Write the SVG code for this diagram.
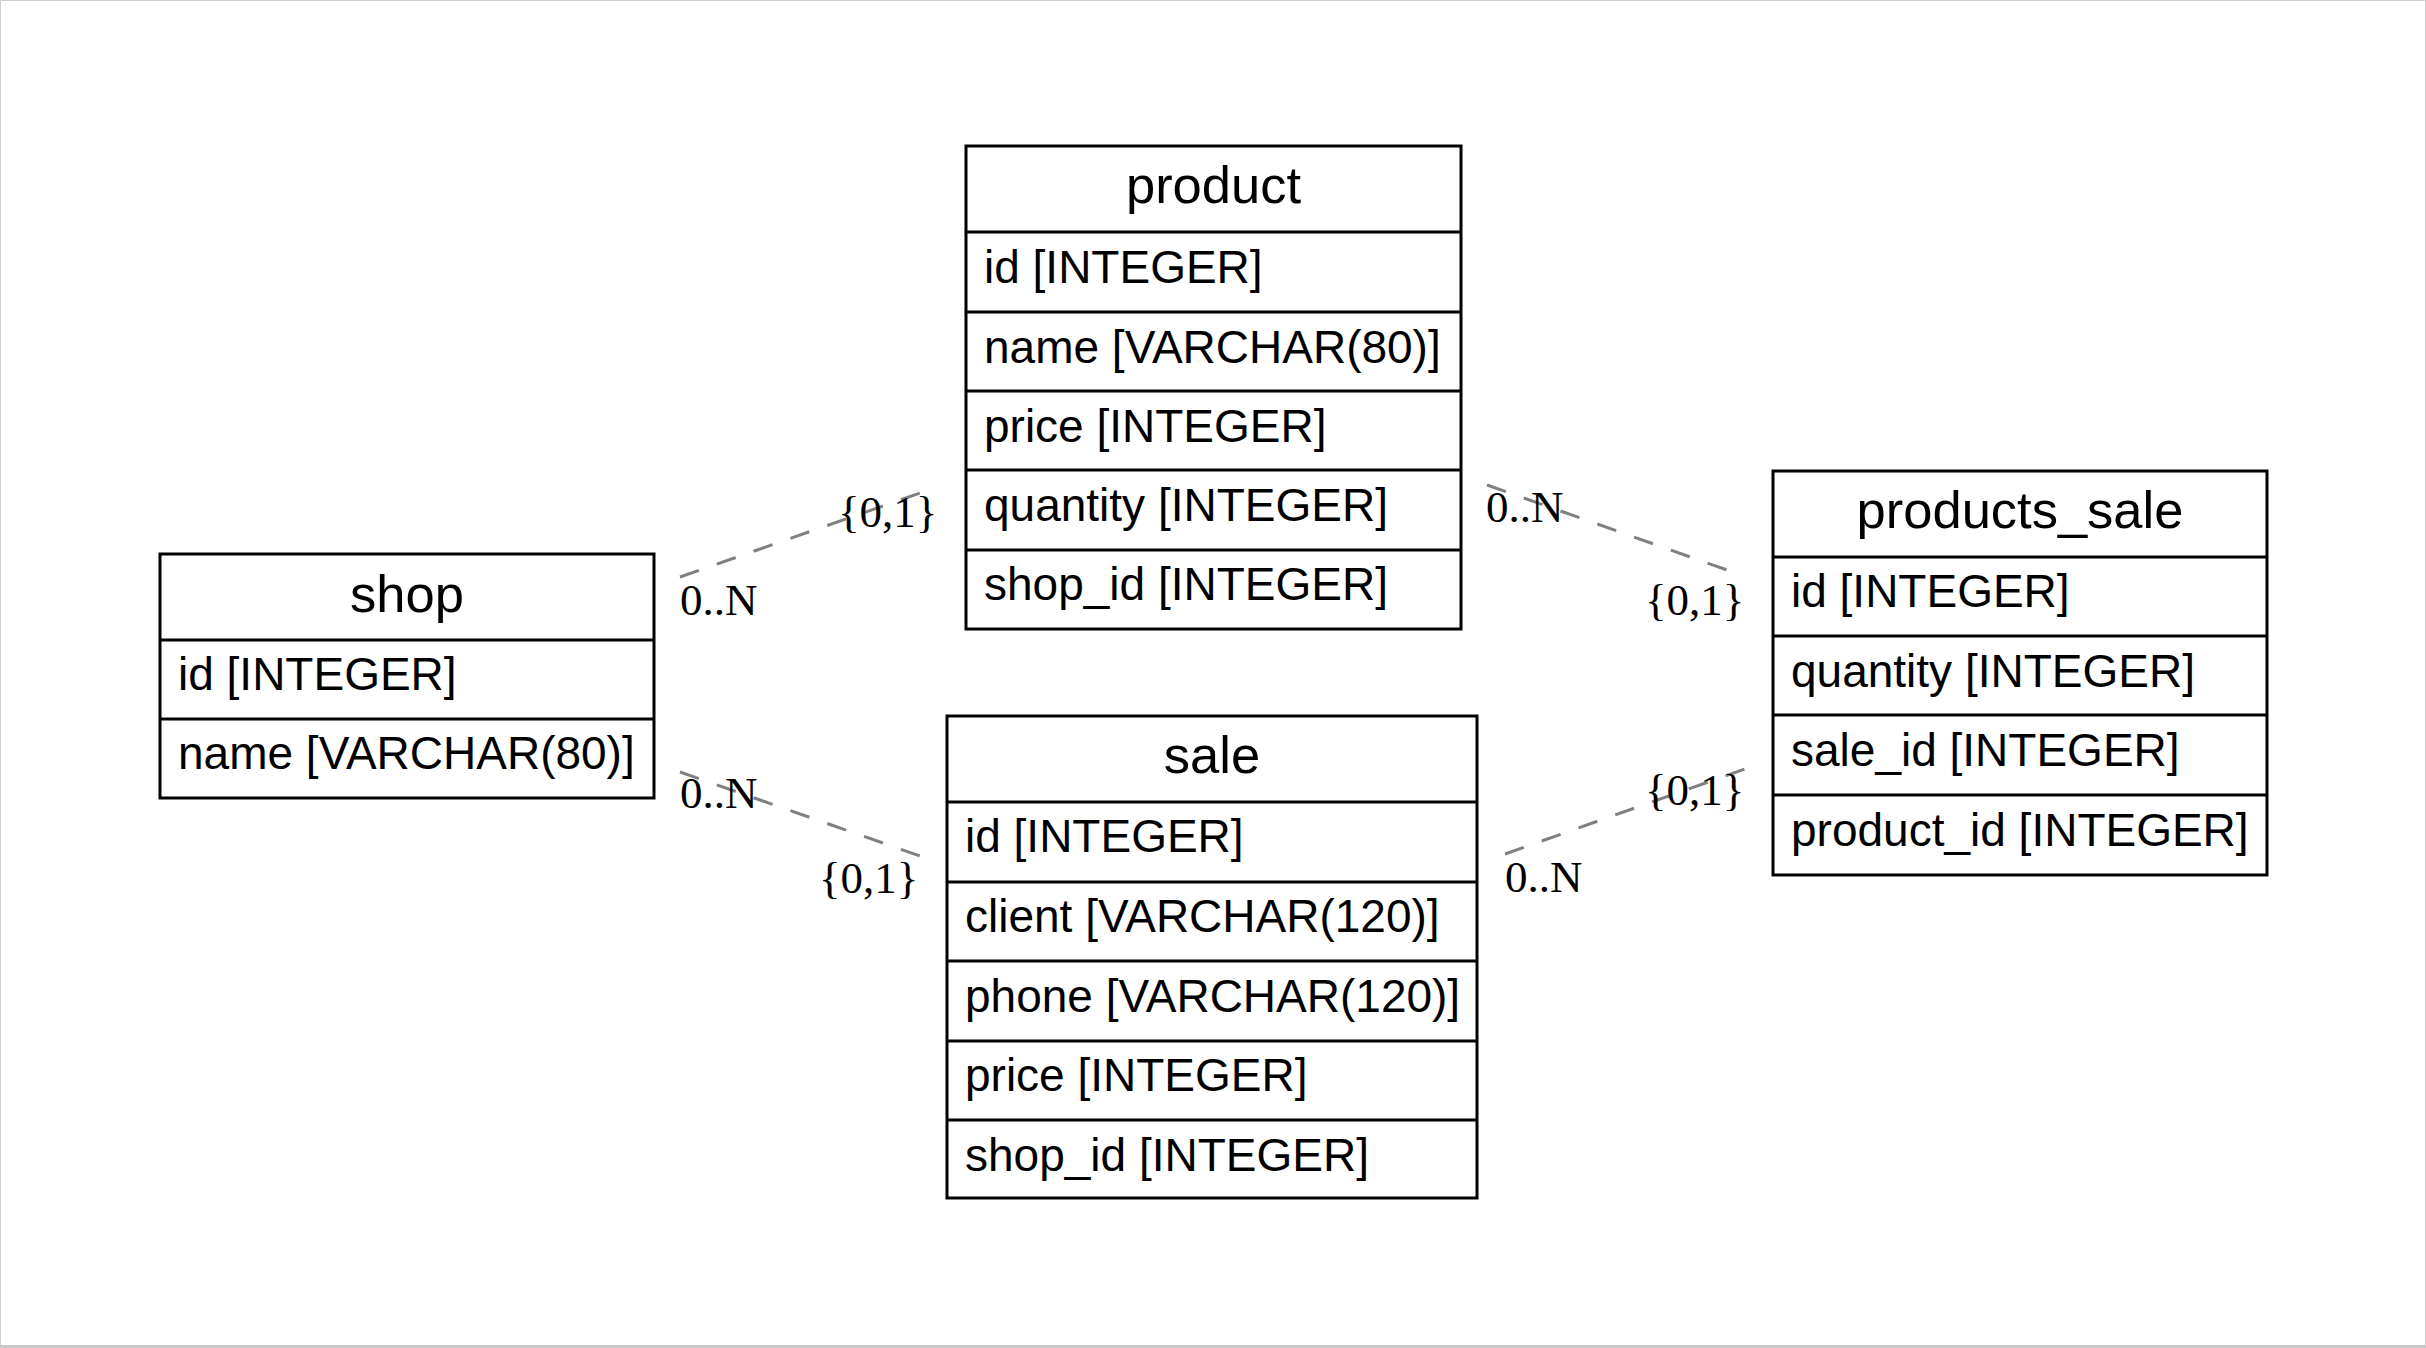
<svg xmlns="http://www.w3.org/2000/svg" width="2426" height="1348" viewBox="0 0 2426 1348">
<style>
.box{fill:#fff;stroke:#000;stroke-width:3}
.div{stroke:#000;stroke-width:3}
.hd{font-family:"Liberation Sans",Arial,sans-serif;font-size:52.5px;text-anchor:middle;fill:#000}
.row{font-family:"Liberation Sans",Arial,sans-serif;font-size:46px;fill:#000}
.lbl{font-family:"Liberation Serif","Times New Roman",serif;font-size:45px;fill:#000}
.edge{stroke:#808080;stroke-width:3;stroke-dasharray:20,19;fill:none}
</style>
<rect x="0" y="0" width="2426" height="1348" fill="#fff"/>
<path d="M0.5,1346 V0.5 H2425.5 V1346" fill="none" stroke="#d0d0d0" stroke-width="1"/>
<rect x="0" y="1345" width="2426" height="3" fill="#c8c8c8"/>

<g id="connectors">
<line class="edge" x1="680" y1="577" x2="923" y2="492"/>
<line class="edge" x1="680" y1="772" x2="920" y2="856"/>
<line class="edge" x1="1487" y1="485" x2="1730" y2="571"/>
<line class="edge" x1="1505" y1="854" x2="1745" y2="769"/>
<text class="lbl" x="680" y="615">0..N</text>
<text class="lbl" x="838" y="527">{0,1}</text>
<text class="lbl" x="680" y="808">0..N</text>
<text class="lbl" x="819" y="893">{0,1}</text>
<text class="lbl" x="1486" y="522">0..N</text>
<text class="lbl" x="1645" y="615">{0,1}</text>
<text class="lbl" x="1505" y="892">0..N</text>
<text class="lbl" x="1645" y="805">{0,1}</text>
</g>

<g id="shop">
<rect class="box" x="160" y="554" width="494" height="244"/>
<line class="div" x1="160" y1="640" x2="654" y2="640"/>
<line class="div" x1="160" y1="719" x2="654" y2="719"/>
<text class="hd" x="407" y="612">shop</text>
<text class="row" x="178" y="690">id [INTEGER]</text>
<text class="row" x="178" y="769">name [VARCHAR(80)]</text>
</g>

<g id="product">
<rect class="box" x="966" y="146" width="495" height="483"/>
<line class="div" x1="966" y1="232" x2="1461" y2="232"/>
<line class="div" x1="966" y1="312" x2="1461" y2="312"/>
<line class="div" x1="966" y1="391" x2="1461" y2="391"/>
<line class="div" x1="966" y1="470" x2="1461" y2="470"/>
<line class="div" x1="966" y1="550" x2="1461" y2="550"/>
<text class="hd" x="1213.5" y="203">product</text>
<text class="row" x="984" y="283">id [INTEGER]</text>
<text class="row" x="984" y="363">name [VARCHAR(80)]</text>
<text class="row" x="984" y="442">price [INTEGER]</text>
<text class="row" x="984" y="521">quantity [INTEGER]</text>
<text class="row" x="984" y="600">shop_id [INTEGER]</text>
</g>

<g id="sale">
<rect class="box" x="947" y="716" width="530" height="482"/>
<line class="div" x1="947" y1="802" x2="1477" y2="802"/>
<line class="div" x1="947" y1="882" x2="1477" y2="882"/>
<line class="div" x1="947" y1="961" x2="1477" y2="961"/>
<line class="div" x1="947" y1="1041" x2="1477" y2="1041"/>
<line class="div" x1="947" y1="1120" x2="1477" y2="1120"/>
<text class="hd" x="1212" y="773">sale</text>
<text class="row" x="965" y="852">id [INTEGER]</text>
<text class="row" x="965" y="932">client [VARCHAR(120)]</text>
<text class="row" x="965" y="1012">phone [VARCHAR(120)]</text>
<text class="row" x="965" y="1091">price [INTEGER]</text>
<text class="row" x="965" y="1171">shop_id [INTEGER]</text>
</g>

<g id="products_sale">
<rect class="box" x="1773" y="471" width="494" height="404"/>
<line class="div" x1="1773" y1="557" x2="2267" y2="557"/>
<line class="div" x1="1773" y1="636" x2="2267" y2="636"/>
<line class="div" x1="1773" y1="715" x2="2267" y2="715"/>
<line class="div" x1="1773" y1="795" x2="2267" y2="795"/>
<text class="hd" x="2020" y="528">products_sale</text>
<text class="row" x="1791" y="607">id [INTEGER]</text>
<text class="row" x="1791" y="687">quantity [INTEGER]</text>
<text class="row" x="1791" y="766">sale_id [INTEGER]</text>
<text class="row" x="1791" y="846">product_id [INTEGER]</text>
</g>
</svg>
